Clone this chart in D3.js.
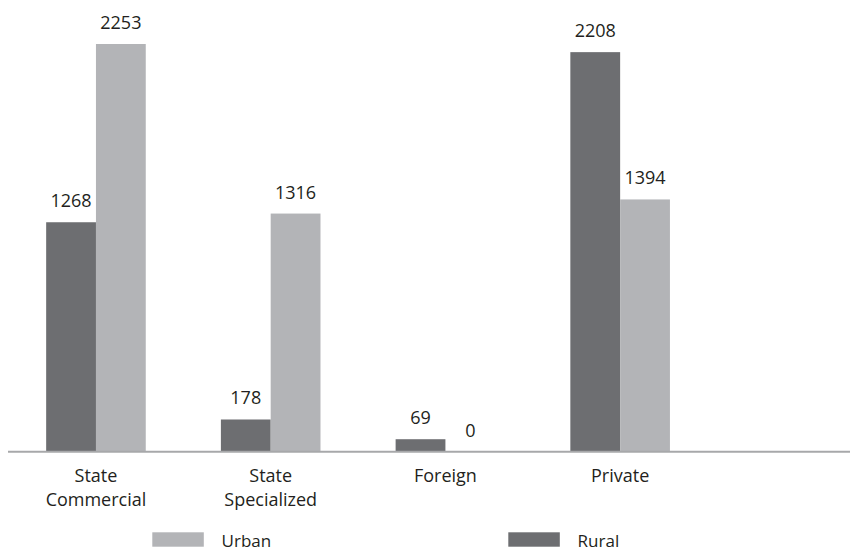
<!DOCTYPE html>
<html>
<head>
<meta charset="utf-8">
<script src="https://cdn.jsdelivr.net/npm/d3@7"></script>
<style>
  body { margin: 0; background: #fff; }
  text { font-family: "Open Sans", "Noto Sans", sans-serif; fill: #231f20; }
</style>
</head>
<body>
<svg id="chart" width="867" height="552"></svg>
<script>
// data
var categories = [["State", "Commercial"], ["State", "Specialized"], ["Foreign"], ["Private"]];
var seriesNames = ["Rural", "Urban"];
var rural = [1268, 178, 69, 2208];
var urban = [2253, 1316, 0, 1394];
var colors = { Rural: "#6d6e71", Urban: "#b3b4b7" };

var svg = d3.select("#chart");
var baseY = 451.7;

var x0 = d3.scaleBand()
    .domain(d3.range(categories.length))
    .range([8.6, 707.5])
    .paddingInner(0.43)
    .paddingOuter(0.215);

var x1 = d3.scaleBand()
    .domain(seriesNames)
    .range([0, x0.bandwidth()]);

var y = d3.scaleLinear()
    .domain([0, 2253])
    .range([baseY, 44]);

var rows = categories.map(function(c, i) {
    return seriesNames.map(function(s) {
        return { i: i, key: s, value: s === "Rural" ? rural[i] : urban[i] };
    });
});

var groups = svg.selectAll("g.group")
    .data(rows)
    .enter().append("g")
    .attr("class", "group")
    .attr("transform", function(d, i) { return "translate(" + x0(i) + ",0)"; });

groups.selectAll("rect")
    .data(function(d) { return d; })
    .enter().append("rect")
    .attr("x", function(d) { return x1(d.key); })
    .attr("width", x1.bandwidth())
    .attr("y", function(d) { return y(d.value); })
    .attr("height", function(d) { return baseY - y(d.value); })
    .attr("fill", function(d) { return colors[d.key]; });

groups.selectAll("text.val")
    .data(function(d) { return d; })
    .enter().append("text")
    .attr("class", "val")
    .attr("x", function(d) { return x1(d.key) + x1.bandwidth() / 2; })
    .attr("y", function(d) { return y(d.value) - 15; })
    .attr("text-anchor", "middle")
    .style("font-size", "18px")
    .text(function(d) { return d.value; });

// baseline
svg.append("line")
    .attr("x1", 8).attr("x2", 850)
    .attr("y1", baseY).attr("y2", baseY)
    .attr("stroke", "#a7a8aa")
    .attr("stroke-width", 2);

// category labels
var labels = svg.selectAll("text.cat")
    .data(categories)
    .enter().append("text")
    .attr("class", "cat")
    .attr("text-anchor", "middle")
    .attr("x", function(d, i) { return x0(i) + x0.bandwidth() / 2; })
    .attr("y", 481.7)
    .style("font-size", "18px");

labels.selectAll("tspan")
    .data(function(d) { return d; })
    .enter().append("tspan")
    .attr("x", function() { return d3.select(this.parentNode).attr("x"); })
    .attr("dy", function(d, j) { return j === 0 ? 0 : 24.5; })
    .text(function(d) { return d; });

// legend
var legendItems = [
    { key: "Urban", x: 152.3 },
    { key: "Rural", x: 508.3 }
];

var legend = svg.selectAll("g.legend")
    .data(legendItems)
    .enter().append("g")
    .attr("class", "legend")
    .attr("transform", function(d) { return "translate(" + d.x + ",532.3)"; });

legend.append("rect")
    .attr("width", 51.5)
    .attr("height", 14.4)
    .attr("fill", function(d) { return colors[d.key]; });

legend.append("text")
    .attr("x", 69.3)
    .attr("y", 14.8)
    .style("font-size", "17px")
    .text(function(d) { return d.key; });
</script>
</body>
</html>
